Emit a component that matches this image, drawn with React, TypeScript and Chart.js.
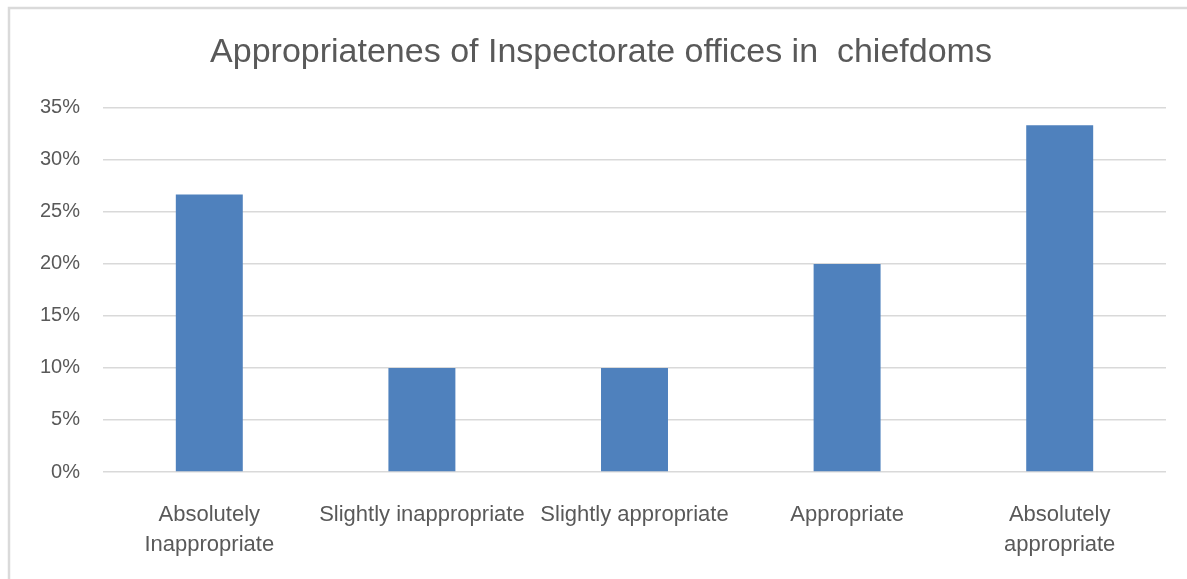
import React, { useEffect, useRef } from "react";
import { Chart, registerables } from "chart.js";

Chart.register(...registerables);

const categories: (string | string[])[] = [
  ["Absolutely", "Inappropriate"],
  "Slightly inappropriate",
  "Slightly appropriate",
  "Appropriate",
  ["Absolutely", "appropriate"],
];
const values: number[] = [26.67, 10, 10, 20, 33.33];
const yTicks: number[] = [0, 5, 10, 15, 20, 25, 30, 35];
const titleText = "Appropriatenes of Inspectorate offices in  chiefdoms";

const W = 1187;
const H = 579;
const FONT = "'Liberation Sans', Arial, sans-serif";

const frame = {
  id: "frame",
  beforeDraw(chart: any) {
    const ctx = chart.ctx;
    ctx.save();
    ctx.fillStyle = "#ffffff";
    ctx.fillRect(0, 0, W, H);
    ctx.strokeStyle = "#dadada";
    ctx.lineWidth = 2.5;
    ctx.beginPath();
    ctx.moveTo(9, H);
    ctx.lineTo(9, 8);
    ctx.lineTo(W, 8);
    ctx.stroke();
    ctx.restore();
  },
  afterLayout(chart: any) {
    const t = chart.titleBlock;
    if (t) {
      t.right = t.right + 36;
    }
  },
};

export default function App() {
  const ref = useRef<HTMLCanvasElement>(null);
  useEffect(() => {
    document.body.style.margin = "0";
    const chart = new Chart(ref.current!, {
      type: "bar",
      data: {
        labels: categories,
        datasets: [
          {
            data: values,
            backgroundColor: "#4f81bd",
            borderColor: "#4f81bd",
            borderWidth: 0,
            categoryPercentage: 1,
            barPercentage: 0.315,
          },
        ],
      },
      plugins: [frame],
      options: {
        animation: false,
        responsive: false,
        layout: { padding: { left: 0, right: 21, top: 0, bottom: 20 } },
        plugins: {
          legend: { display: false },
          tooltip: { enabled: false },
          title: {
            display: true,
            text: titleText,
            color: "#595959",
            font: { family: FONT, size: 34, weight: "normal" },
            padding: { top: 32, bottom: 35 },
          },
        },
        scales: {
          x: {
            grid: { display: false, drawTicks: false },
            border: { display: false },
            ticks: {
              color: "#595959",
              font: { family: FONT, size: 22, lineHeight: 1.36 },
              padding: 28,
              maxRotation: 0,
              autoSkip: false,
            },
            afterFit(scale: any) {
              scale.height = 87;
            },
          },
          y: {
            min: 0,
            max: 35,
            afterBuildTicks(scale: any) {
              scale.ticks = yTicks.map((v) => ({ value: v }));
            },
            grid: { color: "#d9d9d9", lineWidth: 1.5, drawTicks: false },
            border: { display: false },
            ticks: {
              color: "#595959",
              font: { family: FONT, size: 20 },
              padding: 23,
              callback: (v: any) => v + "%",
            },
            afterFit(scale: any) {
              scale.width = 103;
            },
          },
        },
      },
    });
    return () => chart.destroy();
  }, []);
  return <canvas ref={ref} width={W} height={H} style={{ display: "block" }} />;
}
